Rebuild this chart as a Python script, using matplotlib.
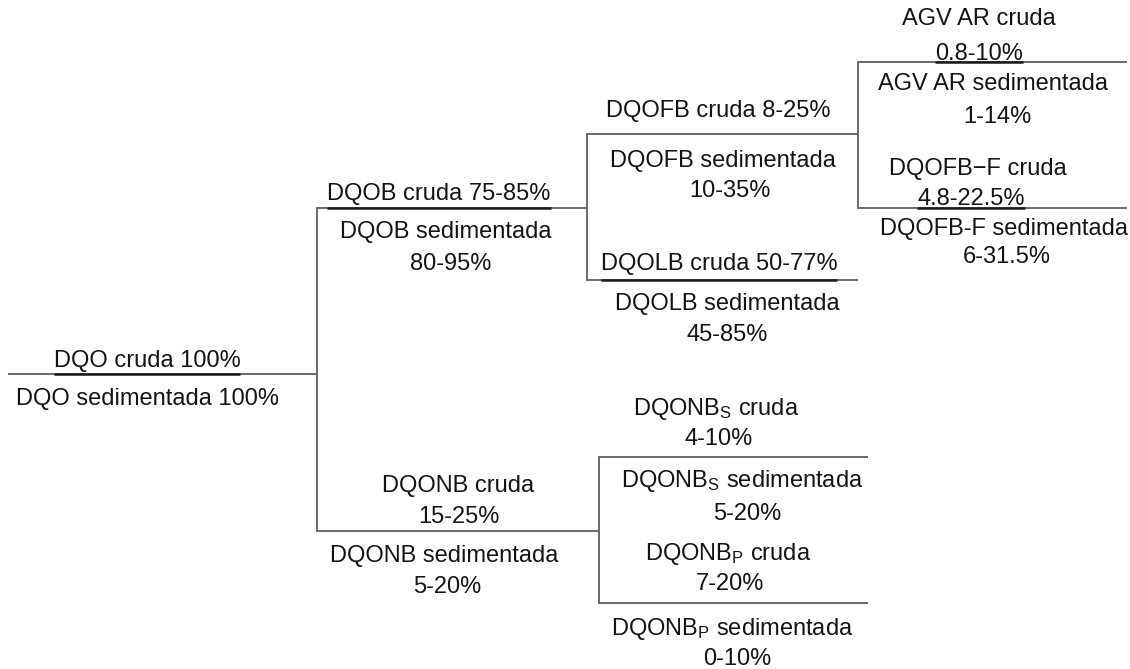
import matplotlib
matplotlib.use("Agg")
import matplotlib.pyplot as plt

plt.rcParams['font.family'] = ['Liberation Sans', 'DejaVu Sans']
plt.rcParams['mathtext.fontset'] = 'custom'
plt.rcParams['mathtext.rm'] = 'Liberation Sans'
plt.rcParams['mathtext.it'] = 'Liberation Sans:italic'

# ---- data ----
names_cruda = ["DQO", "DQOB", "DQONB", "DQOFB", "DQOLB", "AGV AR", "DQOFB\u2212F",
               r"DQONB$_\mathrm{S}$", r"DQONB$_\mathrm{P}$"]
names_sed = ["DQO", "DQOB", "DQONB", "DQOFB", "DQOLB", "AGV AR", "DQOFB-F",
             r"DQONB$_\mathrm{S}$", r"DQONB$_\mathrm{P}$"]
cruda = ["100%", "75-85%", "15-25%", "8-25%", "50-77%", "0.8-10%", "4.8-22.5%", "4-10%", "7-20%"]
sedimentada = ["100%", "80-95%", "5-20%", "10-35%", "45-85%", "1-14%", "6-31.5%", "5-20%", "0-10%"]
parents = [None, 0, 0, 1, 1, 3, 3, 2, 2]

# ---- layout (pixel coordinates) ----
# horizontal line of each node: (y, x_start, x_end)
line_pos = [(374, 8, 317), (208, 317, 587), (531, 317, 599), (134, 587, 858),
            (280, 587, 858), (62, 858, 1127), (208, 858, 1127), (457, 599, 868),
            (603, 599, 868)]
# text placement: list of (cx, baseline) for cruda lines and sed lines
cruda_pos = [[(147, 367)], [(439, 200)], [(458, 492), (459, 523)], [(718, 117)],
             [(719, 270)], [(979, 25), (979, 60)], [(978, 175), (971, 205)],
             [(716, 415), (719, 445)], [(728, 560), (730, 590)]]
sed_pos = [[(147, 405)], [(446, 238), (451, 270)], [(444, 562), (447, 593)],
           [(723, 167), (730, 197)], [(727, 310), (727, 341)], [(993, 90), (997, 123)],
           [(1004, 235), (1007, 263)], [(742, 487), (747, 520)], [(732, 635), (737, 665)]]
underline_nodes = [0, 1, 4, 5, 6]

W, H = 1130, 669
fig = plt.figure(figsize=(W / 100, H / 100), dpi=100)
ax = fig.add_axes([0, 0, 1, 1])
ax.set_xlim(0, W)
ax.set_ylim(H, 0)
ax.axis('off')

LC = '#6a6a6a'
FS = 17
TC = '#141414'

# horizontal lines
for i, (y, x0, x1) in enumerate(line_pos):
    ax.plot([x0, x1], [y, y], color=LC, lw=1.4, solid_capstyle='butt')

# vertical connectors
for p in range(len(names_cruda)):
    kids = [i for i, q in enumerate(parents) if q == p]
    if kids:
        ys = [line_pos[k][0] for k in kids]
        xv = line_pos[kids[0]][1]
        ax.plot([xv, xv], [min(ys), max(ys)], color=LC, lw=1.4)

# texts
def place(lines, pos):
    objs = []
    for s, (cx, by) in zip(lines, pos):
        objs.append(ax.text(cx, by, s, ha='center', va='baseline', fontsize=FS, color=TC))
    return objs

cruda_objs = []
for i in range(len(names_cruda)):
    if len(cruda_pos[i]) == 1:
        cl = [f"{names_cruda[i]} cruda {cruda[i]}"]
    else:
        cl = [f"{names_cruda[i]} cruda", cruda[i]]
    if len(sed_pos[i]) == 1:
        sl = [f"{names_sed[i]} sedimentada {sedimentada[i]}"]
    else:
        sl = [f"{names_sed[i]} sedimentada", sedimentada[i]]
    cruda_objs.append(place(cl, cruda_pos[i]))
    place(sl, sed_pos[i])

# darker underline under cruda text
fig.canvas.draw()
r = fig.canvas.get_renderer()
inv = ax.transData.inverted()
for i in underline_nodes:
    t = cruda_objs[i][-1]
    bb = t.get_window_extent(r)
    (xa, _), (xb, _) = inv.transform([(bb.x0, bb.y0), (bb.x1, bb.y0)])
    y = line_pos[i][0]
    ax.plot([xa, xb], [y, y], color='#1a1a1a', lw=1.8, solid_capstyle='butt')

fig.savefig('out.png', dpi=100, facecolor='white')
